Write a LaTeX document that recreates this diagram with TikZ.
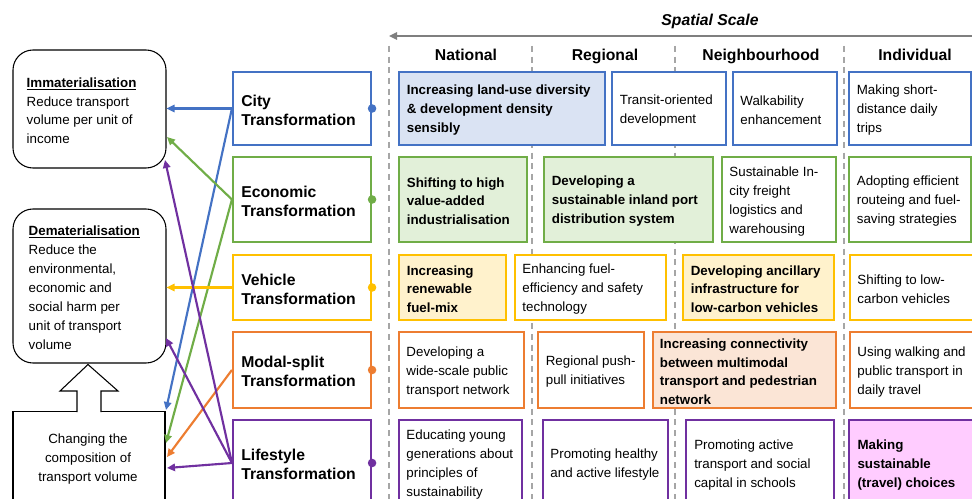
\documentclass[tikz,border=0pt]{standalone}
\usepackage{fontspec}
\setmainfont{Liberation Sans}
\usetikzlibrary{arrows.meta,backgrounds,calc}
\definecolor{cblue}{HTML}{4472C4}
\definecolor{cgreen}{HTML}{70AD47}
\definecolor{cyellow}{HTML}{FFC000}
\definecolor{corange}{HTML}{ED7D31}
\definecolor{cpurple}{HTML}{7030A0}
\definecolor{fblue}{HTML}{DAE3F3}
\definecolor{fgreen}{HTML}{E2F0D9}
\definecolor{fyellow}{HTML}{FFF2CC}
\definecolor{forange}{HTML}{FBE5D6}
\definecolor{fpink}{HTML}{FFCCFF}
\definecolor{dgray}{HTML}{7F7F7F}
\definecolor{lgray}{HTML}{A6A6A6}
% name, x1, y1, x2, y2, box style, text style, left pad, text
\newcommand{\mkbox}[9]{%
  \pgfmathsetmacro{\mkw}{(#4-#2)*0.75}%
  \pgfmathsetmacro{\mkh}{(#5-#3)*0.75}%
  \node[#6, minimum width=\mkw pt, minimum height=\mkh pt, inner sep=0pt] (#1) at ({(#2+#4)/2},{(#3+#5)/2}) {};%
  \node[#7, anchor=west, align=left, inner sep=0pt] (#1t) at ([xshift=#8, yshift=-1.3pt]#1.west) {#9};}
\tikzset{
  fn/.style={font=\fontsize{10}{14.2}\selectfont},
  fb/.style={font=\bfseries\fontsize{10}{14.2}\selectfont},
  ft/.style={font=\bfseries\fontsize{11.8}{14.3}\selectfont},
  pbox/.style={draw=#1, line width=1.6pt, fill=white},
  lbox/.style={draw=black, line width=0.8pt, fill=white, rounded corners=15pt},
  sbox/.style={draw=black, line width=0.8pt, fill=white},
  arr/.style={line width=1.6pt, -{Triangle[length=6pt,width=5.5pt]}},
  rowline/.style={line width=1.8pt},
  dashline/.style={draw=lgray, line width=1.1pt, dash pattern=on 4.5pt off 3.5pt},
}
\begin{document}
\begin{tikzpicture}[x=0.75pt,y=-0.75pt]
\useasboundingbox (0,0) rectangle (972,499);
\clip (0,0) rectangle (972,499);
\fill[white] (0,0) rectangle (972,499);

% spatial scale
\coordinate (ssR) at (976,36);
\coordinate (ssL) at (389,36);
\draw[dgray, line width=1.2pt, -{Triangle[length=6pt,width=5.5pt]}] (ssR) -- (ssL);
\node[font=\bfseries\itshape\fontsize{11.8}{14}\selectfont, anchor=base] (hS) at (710,25.5) {Spatial Scale};

% dashed column separators
\foreach \xx in {389,532,675,844}{
  \draw[dashline] (\xx,46) -- (\xx,505);
}
\node[ft, anchor=base] (hN) at (466,60.5) {National};
\node[ft, anchor=base] (hR) at (605,60.5) {Regional};
\node[ft, anchor=base] (hH) at (761,60.5) {Neighbourhood};
\node[ft, anchor=base] (hI) at (915,60.5) {Individual};

% left boxes
\mkbox{imm}{13}{50}{166}{168}{lbox}{fn}{10.5pt}{\underline{\textbf{Immaterialisation}}\\Reduce transport\\volume per unit of\\income}
\mkbox{dem}{13}{209}{166}{363}{lbox}{fn}{12pt}{\underline{\textbf{Dematerialisation}}\\Reduce the\\environmental,\\economic and\\social harm per\\unit of transport\\volume}
\node[sbox, minimum width=114pt, minimum height=70pt, inner sep=0pt] (chg) at (89,458.5) {};
\node[fn, align=center, inner sep=0pt] (chgt) at (88,459) {Changing the\\composition of\\transport volume};
\fill[white] (77,413.5) -- (77,391) -- (60,391) -- (88,364.5) -- (118,391) -- (101,391) -- (101,413.5) -- cycle;
\draw[line width=0.8pt, line join=miter] (77,412) -- (77,391) -- (60,391) -- (88,364.5) -- (118,391) -- (101,391) -- (101,412);

% transformation boxes
\mkbox{city}{233}{72}{371}{145}{pbox=cblue}{ft}{6.8pt}{City\\Transformation}
\mkbox{econ}{233}{157}{371}{242}{pbox=cgreen}{ft}{6.8pt}{Economic\\Transformation}
\mkbox{veh}{233}{255}{371}{320}{pbox=cyellow}{ft}{6.8pt}{Vehicle\\Transformation}
\mkbox{modal}{233}{332}{371}{408}{pbox=corange}{ft}{6.8pt}{Modal-split\\Transformation}
\mkbox{life}{233}{420}{371}{506}{pbox=cpurple}{ft}{6.8pt}{Lifestyle\\Transformation}

% row 1
\mkbox{b11}{399}{72}{605}{145}{pbox=cblue,fill=fblue}{fb}{6.5pt}{Increasing land-use diversity\\\& development density\\sensibly}
\mkbox{b12}{612}{72}{726}{145}{pbox=cblue}{fn}{6.5pt}{Transit-oriented\\development}
\mkbox{b13}{733}{72}{837}{145}{pbox=cblue}{fn}{6.2pt}{Walkability\\enhancement}
\mkbox{b14}{849}{72}{971}{145}{pbox=cblue}{fn}{6.5pt}{Making short-\\distance daily\\trips}
% row 2
\mkbox{b21}{399}{157}{527}{242}{pbox=cgreen,fill=fgreen}{fb}{6.5pt}{Shifting to high\\value-added\\industrialisation}
\mkbox{b22}{544}{157}{713}{242}{pbox=cgreen,fill=fgreen}{fb}{6.5pt}{Developing a\\sustainable inland port\\distribution system}
\mkbox{b23}{722}{157}{836}{242}{pbox=cgreen}{fn}{6.2pt}{Sustainable In-\\city freight\\logistics and\\warehousing}
\mkbox{b24}{849}{157}{971}{242}{pbox=cgreen}{fn}{6.5pt}{Adopting efficient\\routeing and fuel-\\saving strategies}
% row 3
\mkbox{b31}{399}{255}{506}{320}{pbox=cyellow,fill=fyellow}{fb}{6.5pt}{Increasing\\renewable\\fuel-mix}
\mkbox{b32}{515}{255}{666}{320}{pbox=cyellow}{fn}{6.2pt}{Enhancing fuel-\\efficiency and safety\\technology}
\mkbox{b33}{683}{255}{834}{320}{pbox=cyellow,fill=fyellow}{fb}{6.5pt}{Developing ancillary\\infrastructure for\\low-carbon vehicles}
\mkbox{b34}{850}{255}{990}{320}{pbox=cyellow}{fn}{6.2pt}{Shifting to low-\\carbon vehicles}
% row 4
\mkbox{b41}{399}{332}{524}{408}{pbox=corange}{fn}{6.2pt}{Developing a\\wide-scale public\\transport network}
\mkbox{b42}{538}{332}{644}{408}{pbox=corange}{fn}{6.5pt}{Regional push-\\pull initiatives}
\mkbox{b43}{653}{332}{836}{408}{pbox=corange,fill=forange}{fb}{5.8pt}{Increasing connectivity\\between multimodal\\transport and pedestrian\\network}
\mkbox{b44}{850}{332}{990}{408}{pbox=corange}{fn}{6.2pt}{Using walking and\\public transport in\\daily travel}
% row 5
\mkbox{b51}{399}{420}{522}{506}{pbox=cpurple}{fn}{6.2pt}{Educating young\\generations about\\principles of\\sustainability}
\mkbox{b52}{543}{420}{668}{506}{pbox=cpurple}{fn}{6.2pt}{Promoting healthy\\and active lifestyle}
\mkbox{b53}{686}{420}{834}{506}{pbox=cpurple}{fn}{6.8pt}{Promoting active\\transport and social\\capital in schools}
\mkbox{b54}{849}{420}{990}{506}{pbox=cpurple,fill=fpink}{fb}{7pt}{Making\\sustainable\\(travel) choices}

% row connecting lines
\begin{scope}[on background layer]
\draw[rowline,cblue] (city.east) -- (b14.west);
\draw[rowline,cgreen] (econ.east) -- (b24.west);
\draw[rowline,cyellow] (veh.east) -- (b34.west);
\draw[rowline,corange] (modal.east) -- (b44.west);
\draw[rowline,cpurple] (life.east) -- (b54.west);
\end{scope}
\fill[cblue] (city.east) circle[radius=3.2pt];
\fill[cgreen] (econ.east) circle[radius=3.2pt];
\fill[cyellow] (veh.east) circle[radius=3.2pt];
\fill[corange] (modal.east) circle[radius=3.2pt];
\fill[cpurple] (life.east) circle[radius=3.2pt];

% connector end points on the left boxes
\coordinate (immG) at (167,137);
\coordinate (immP) at (165,160);
\coordinate (demP) at (166,338);
\coordinate (chgB) at (166,410);
\coordinate (chgG) at (166,443);
\coordinate (chgO) at (167,457);
\coordinate (chgP) at (167,468);

\draw[arr,cblue] (city.west) -- (imm.east |- city.west);
\draw[arr,cblue] (city.west) -- (chgB);
\draw[arr,cgreen] (econ.west) -- (immG);
\draw[arr,cgreen] (econ.west) -- (chgG);
\draw[arr,cyellow] (veh.west) -- (dem.east |- veh.west);
\draw[arr,corange] (modal.west) -- (chgO);
\draw[arr,cpurple] (life.west) -- (immP);
\draw[arr,cpurple] (life.west) -- (demP);
\draw[arr,cpurple] (life.west) -- (chgP);
\end{tikzpicture}
\end{document}
